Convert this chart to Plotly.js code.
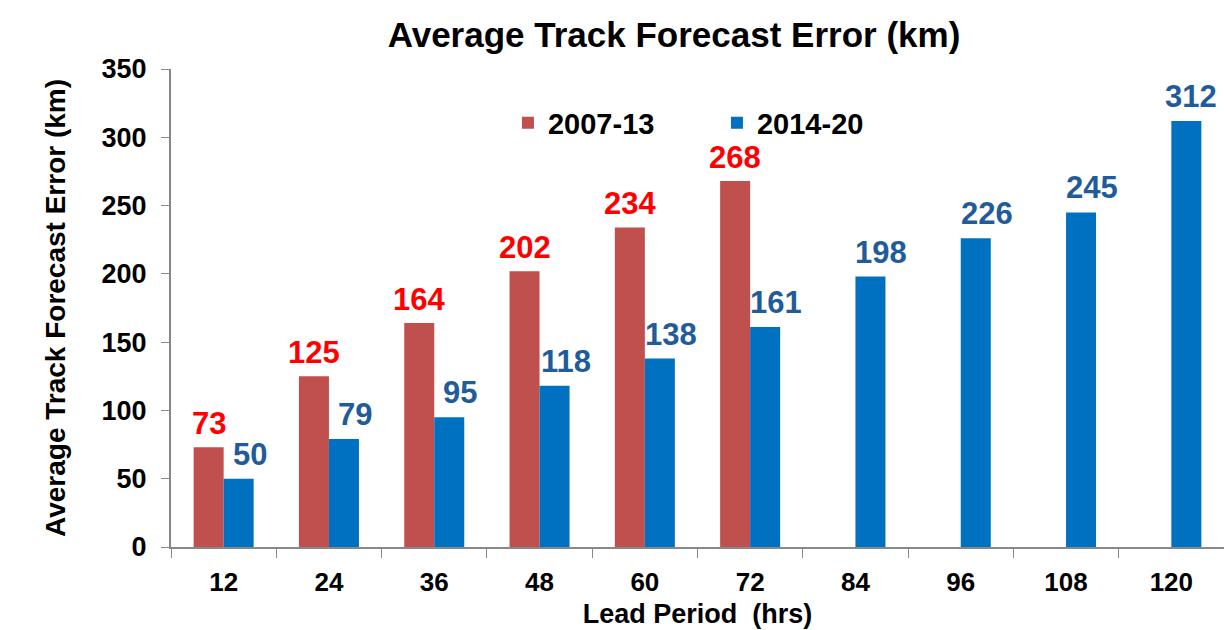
<!DOCTYPE html>
<html>
<head>
<meta charset="utf-8">
<script src="https://cdn.plot.ly/plotly-3.0.1.min.js"></script>
<style>html,body{margin:0;padding:0;background:#fff;}#chart{width:1224px;height:630px;}</style>
</head>
<body>
<div id="chart"></div>
<script>
const leadPeriods = ["12","24","36","48","60","72","84","96","108","120"];
const errors2007_13 = [73,125,164,202,234,268,null,null,null,null];
const errors2014_20 = [50,79,95,118,138,161,198,226,245,312];
const seriesNames = ["2007-13","2014-20"];

const FONT = "Liberation Sans, Arial, sans-serif";
const RED = "#C0504D", BLUE = "#0070C0";

const traces = [
  {type:"bar", name:"<b>"+seriesNames[0]+"</b>", x:leadPeriods, y:errors2007_13,
   marker:{color:RED}, hoverinfo:"none"},
  {type:"bar", name:"<b>"+seriesNames[1]+"</b>", x:leadPeriods, y:errors2014_20,
   marker:{color:BLUE}, hoverinfo:"none"}
];

const annotations = [];
leadPeriods.forEach((c,i)=>{
  if (errors2007_13[i] != null) annotations.push({x:i, y:errors2007_13[i], xref:"x", yref:"y",
    text:"<b>"+errors2007_13[i]+"</b>", showarrow:false, yanchor:"bottom", xshift:-15, yshift:4,
    font:{family:FONT, size:31, color:"#FF0000"}});
  annotations.push({x:i, y:errors2014_20[i], xref:"x", yref:"y",
    text:"<b>"+errors2014_20[i]+"</b>", showarrow:false, yanchor:"bottom", xshift:(i===9?20:26), yshift:5,
    font:{family:FONT, size:31, color:"#1F5C99"}});
});

const layout = {
  width:1224, height:630,
  margin:{l:171, r:0, t:69, b:83},
  paper_bgcolor:"#fff", plot_bgcolor:"#fff",
  barmode:"group", bargap:0.43, bargroupgap:0,
  font:{family:FONT, color:"#000"},
  title:{text:"<b>Average Track Forecast Error (km)</b>", x:674/1224, xanchor:"center", xref:"container", y:0.945, yanchor:"middle",
    font:{family:FONT, size:35, color:"#000"}},
  xaxis:{type:"category", range:[-0.5, leadPeriods.length-0.5], tickson:"boundaries", ticks:"outside", ticklen:9, tickcolor:"#888",
    showline:true, linecolor:"#888", linewidth:2, showgrid:false, zeroline:false, tickangle:0, ticklabelstandoff:11,
    tickfont:{family:FONT, size:26, color:"#000"}, tickprefix:"<b>", ticksuffix:"</b>",
    title:{text:"<b>Lead Period  (hrs)</b>", font:{family:FONT, size:27, color:"#000"}, standoff:8}},
  yaxis:{range:[0,350], dtick:50, ticks:"outside", ticklen:8, tickcolor:"#888",
    showline:true, linecolor:"#888", linewidth:2, showgrid:false, zeroline:false, ticklabelstandoff:9,
    tickfont:{family:FONT, size:27, color:"#000"}, tickprefix:"<b>", ticksuffix:"</b>",
    title:{text:"<b>Average Track Forecast Error (km)</b>", font:{family:FONT, size:28, color:"#000"}, standoff:28}},
  showlegend:true,
  legend:{orientation:"h", x:0.32, xanchor:"left", y:0.887, yanchor:"middle",
    font:{family:FONT, size:29, color:"#000"}, entrywidth:164, bgcolor:"rgba(0,0,0,0)"},
  annotations:annotations
};
Plotly.newPlot("chart", traces, layout, {staticPlot:true, displayModeBar:false});
</script>
</body>
</html>
